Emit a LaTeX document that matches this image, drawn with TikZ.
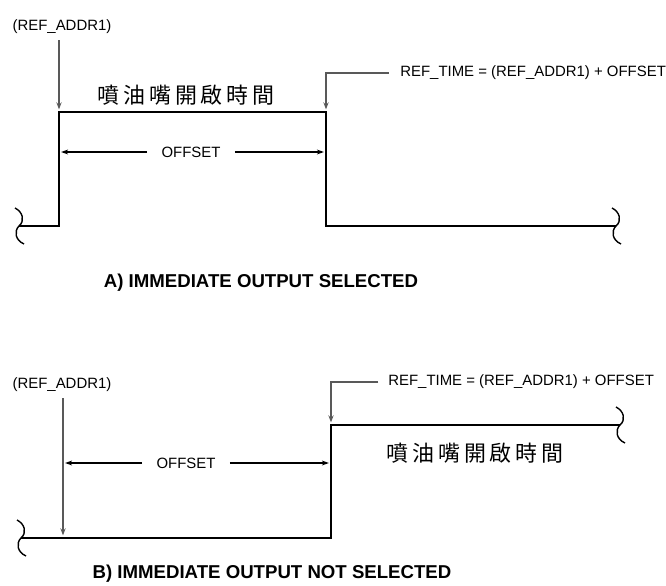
\documentclass[tikz,border=0pt]{standalone}
\usepackage{fontspec}
\setmainfont{Liberation Sans}
\newfontfamily\cjk[LetterSpace=18]{Noto Sans CJK TC}
\usetikzlibrary{arrows.meta,calc}
\tikzset{
  lbl/.style={inner sep=0pt, font=\fontsize{8.5}{10}\selectfont},
  ttl/.style={inner sep=0pt, font=\bfseries\fontsize{10.6}{12}\selectfont},
  zh/.style={inner sep=0pt, font=\cjk\fontsize{12.5}{14}\selectfont},
  wave/.style={line width=1.2pt, line join=miter},
  callout/.style={black!65, line width=0.6pt, -{Stealth[length=4pt, width=3pt]}, shorten >=1.5pt},
  dimarr/.style={line width=0.6pt, -{Stealth[length=4pt, width=2.8pt]}, shorten >=1.2pt},
  brk/.pic={\draw[line width=0.8pt] (-4,-18) .. controls (4,-14) and (6,-5) .. (0,0)
                .. controls (-5,5) and (-4,14) .. (5,18);},
}
\begin{document}
\begin{tikzpicture}[x=0.02cm, y=-0.02cm]
  \useasboundingbox (0,0) rectangle (666,585);
  % A) immediate output selected
  \coordinate (a0) at (19,226);
  \coordinate (a1) at (59,226);
  \coordinate (a2) at (59,112);
  \coordinate (a3) at (326,112);
  \coordinate (a4) at (326,226);
  \coordinate (a5) at (616,226);
  \draw[wave] (a0) -- (a1) -- (a2) -- (a3) -- (a4) -- (a5);
  \pic at (a0) {brk};
  \pic at (a5) {brk};
  \node[lbl] (addrA) at (62,27) {(REF\_ADDR1)};
  \draw[callout] (addrA.south -| a2) ++(0,6) -- (a2);
  \node[lbl, anchor=west] (timeA) at (400,73) {REF\_TIME = (REF\_ADDR1) + OFFSET};
  \draw[callout] ([xshift=-6.5pt]timeA.west) -| (a3);
  \node[zh] (zhA) at (186,95) {噴油嘴開啟時間};
  \node[lbl, inner xsep=8pt] (offA) at (191,152) {OFFSET};
  \draw[dimarr] (offA.west) -- (offA.west -| a2);
  \draw[dimarr] (offA.east) -- (offA.east -| a3);
  \node[ttl] (titleA) at (261,283) {A) IMMEDIATE OUTPUT SELECTED};
  % B) immediate output not selected
  \coordinate (b0) at (21,538);
  \coordinate (b1) at (331,538);
  \coordinate (b2) at (331,425);
  \coordinate (b3) at (620,425);
  \coordinate (bm) at (63,538);
  \draw[wave] (b0) -- (b1) -- (b2) -- (b3);
  \pic at (b0) {brk};
  \pic at (b3) {brk};
  \node[lbl] (addrB) at (62,385) {(REF\_ADDR1)};
  \draw[callout] (addrB.south -| bm) ++(0,6) -- (bm);
  \node[lbl, anchor=west] (timeB) at (388,382) {REF\_TIME = (REF\_ADDR1) + OFFSET};
  \draw[callout] ([xshift=-5.5pt]timeB.west) -| (b2);
  \node[zh] (zhB) at (475,453) {噴油嘴開啟時間};
  \node[lbl, inner xsep=8pt] (offB) at (186,463) {OFFSET};
  \draw[dimarr] (offB.west) -- (offB.west -| bm);
  \draw[dimarr] (offB.east) -- (offB.east -| b2);
  \node[ttl] (titleB) at (272,574) {B) IMMEDIATE OUTPUT NOT SELECTED};
\end{tikzpicture}
\end{document}
